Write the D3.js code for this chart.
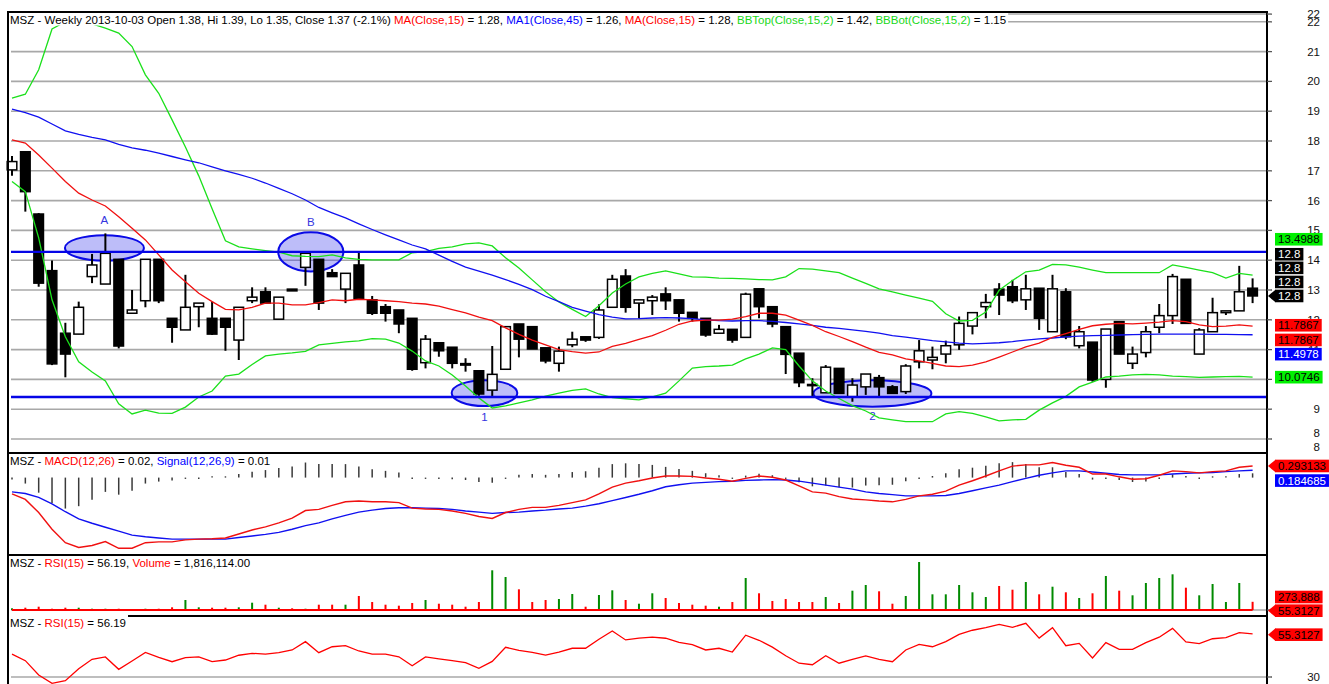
<!DOCTYPE html>
<html><head><meta charset="utf-8">
<script src="https://cdn.jsdelivr.net/npm/d3@7/dist/d3.min.js"></script>
<style>
html,body{margin:0;padding:0;background:#fff;}
svg{display:block;font-family:"Liberation Sans",Arial,Helvetica,sans-serif;}
text{white-space:pre;}
</style></head><body>
<svg id="chart" width="1329" height="684"></svg>
<script>
// ---------------- DATA (weekly candles, oldest -> newest, last = 2013-10-03) ----------------
const opens = [17.03,17.64,15.55,13.65,11.55,11.52,13.45,13.20,14.03,12.22,
12.64,14.03,12.05,11.66,12.44,12.05,12.05,11.32,12.64,12.94,
12.02,13.03,13.76,14.03,13.58,13.03,13.84,12.67,12.44,12.33,
12.05,10.56,11.23,11.08,10.53,10.29,9.64,10.34,11.86,11.77,
11.06,10.54,11.16,11.43,11.41,12.42,13.47,12.56,12.64,12.87,
12.67,12.25,12.05,11.55,11.68,11.41,13.04,12.44,11.77,10.88,
9.83,9.55,10.37,9.42,9.75,10.06,9.75,9.59,10.59,10.65,
10.85,11.16,11.79,12.44,13.03,13.11,12.67,13.06,11.60,12.94,
11.13,11.25,10.00,11.94,10.54,10.90,11.75,12.14,13.36,10.85,
11.60,12.24,12.30,13.06];
const highs = [17.50,17.66,15.58,13.99,11.90,12.61,14.21,14.90,14.03,13.00,
14.03,14.03,12.05,13.51,12.56,12.61,12.05,12.42,13.09,13.09,
12.76,13.03,14.23,14.03,13.70,13.56,14.25,12.80,12.53,12.33,
12.05,11.49,11.23,11.08,10.71,10.29,11.12,11.77,11.86,11.77,
11.06,11.10,11.60,11.43,12.52,13.51,13.70,12.67,12.83,13.09,
12.67,12.25,12.05,11.83,11.68,12.91,13.04,12.44,11.77,10.88,
10.04,10.48,10.37,10.04,10.18,10.15,9.81,10.51,11.32,11.10,
11.30,12.11,12.24,12.87,13.23,13.34,13.51,13.06,13.51,13.06,
11.79,11.25,11.69,11.94,11.10,11.79,12.53,13.54,13.36,11.72,
12.74,12.30,13.81,13.39];
const lows = [16.83,15.63,13.11,10.48,10.07,11.52,13.23,13.20,11.04,12.22,
12.42,12.56,11.23,11.66,11.75,11.49,10.96,10.65,12.56,12.56,
12.02,12.97,13.14,12.33,13.45,12.56,12.72,12.16,11.94,11.55,
10.29,10.37,10.76,10.37,10.26,9.45,9.42,10.34,10.74,11.02,
10.54,10.26,11.08,11.26,11.36,12.42,12.24,12.05,12.16,12.33,
11.94,11.94,11.43,11.55,11.23,11.41,12.05,11.75,10.18,9.74,
9.42,9.55,9.53,9.25,9.48,9.42,9.53,9.51,10.37,10.34,
10.54,10.99,11.51,12.05,12.16,12.56,12.33,11.66,11.60,11.35,
11.04,9.92,9.72,10.85,10.35,10.74,11.55,11.86,11.88,10.85,
11.60,12.16,12.30,12.56];
const closes = [17.31,16.30,13.23,10.52,10.85,12.42,13.84,14.23,11.12,12.33,
14.03,12.64,11.75,12.42,12.56,11.52,11.75,12.42,12.76,12.56,
12.76,12.97,14.23,12.56,13.45,13.56,12.72,12.22,12.22,11.86,
10.34,11.35,10.96,10.54,10.48,9.51,10.17,11.77,11.35,11.02,
10.62,10.95,11.35,11.32,12.33,13.36,12.42,12.67,12.76,12.64,
12.22,12.05,11.49,11.68,11.32,12.86,12.44,11.86,10.84,9.89,
9.80,10.41,9.53,9.81,10.18,9.75,9.53,10.45,10.96,10.74,
11.13,11.88,12.24,12.58,12.83,12.64,13.04,12.05,13.04,11.43,
11.60,9.98,11.69,10.85,10.85,11.60,12.14,13.45,11.88,11.66,
12.24,12.30,12.94,12.8];
const ma15 = [18.04,17.93,17.53,17.09,16.64,16.25,16.02,15.82,15.46,15.07,
14.68,14.18,13.67,13.28,12.89,12.61,12.35,12.33,12.42,12.56,
12.56,12.50,12.50,12.58,12.67,12.64,12.69,12.67,12.64,12.61,
12.56,12.53,12.46,12.34,12.23,12.09,11.97,11.73,11.51,11.32,
11.16,11.00,10.93,10.88,10.92,11.11,11.21,11.34,11.47,11.65,
11.85,11.96,11.99,11.99,12.02,12.11,12.22,12.22,12.16,11.99,
11.81,11.60,11.44,11.27,11.08,10.91,10.82,10.69,10.62,10.54,
10.45,10.43,10.48,10.59,10.75,10.92,11.09,11.22,11.41,11.54,
11.68,11.80,11.85,11.88,11.86,11.89,11.92,11.97,11.94,11.83,
11.77,11.79,11.83,11.7867];
const ma45 = [19.07,18.95,18.80,18.57,18.34,18.22,18.12,18.04,17.89,17.77,
17.69,17.59,17.48,17.37,17.27,17.13,17.00,16.88,16.75,16.59,
16.41,16.23,16.02,15.77,15.59,15.42,15.22,15.03,14.85,14.68,
14.51,14.38,14.17,13.96,13.77,13.63,13.50,13.35,13.19,13.01,
12.79,12.61,12.42,12.29,12.17,12.09,12.03,12.04,12.06,12.07,
12.06,12.04,12.00,11.97,11.96,11.97,11.97,11.95,11.91,11.86,
11.81,11.75,11.71,11.66,11.61,11.55,11.47,11.42,11.36,11.30,
11.26,11.22,11.19,11.21,11.23,11.27,11.32,11.36,11.39,11.43,
11.45,11.47,11.48,11.49,11.50,11.51,11.52,11.52,11.52,11.52,
11.51,11.51,11.50,11.4978];
const bbTop = [19.44,19.57,20.39,21.76,22.00,22.02,21.93,21.79,21.62,21.17,
20.22,19.60,18.71,17.80,16.83,15.73,14.65,14.45,14.38,14.32,
14.27,14.15,14.13,14.12,14.18,14.08,14.03,14.01,14.01,14.01,
14.25,14.29,14.40,14.45,14.55,14.58,14.48,14.08,13.74,13.34,
12.94,12.60,12.35,12.11,12.47,12.90,13.20,13.44,13.56,13.64,
13.54,13.44,13.43,13.40,13.39,13.37,13.35,13.34,13.44,13.72,
13.70,13.64,13.58,13.40,13.22,13.04,12.94,12.83,12.73,12.62,
12.20,11.96,11.98,12.26,12.99,13.32,13.61,13.67,13.86,13.84,
13.77,13.67,13.58,13.58,13.58,13.58,13.58,13.84,13.76,13.67,
13.58,13.40,13.56,13.4988];
const bbBot = [16.64,16.30,14.75,12.67,11.43,10.59,10.25,9.95,9.18,8.84,
8.97,8.87,8.86,9.07,9.41,9.61,10.11,10.18,10.50,10.79,
10.85,10.89,10.94,11.16,11.21,11.26,11.29,11.37,11.35,11.22,
10.95,10.62,10.45,10.15,9.78,9.38,9.04,9.11,9.21,9.31,
9.44,9.54,9.63,9.68,9.51,9.39,9.35,9.31,9.41,9.54,
9.95,10.38,10.43,10.45,10.48,10.69,10.85,11.06,11.00,10.45,
9.95,9.61,9.36,9.12,8.94,8.71,8.64,8.58,8.58,8.58,
8.84,8.92,8.86,8.74,8.61,8.64,8.66,8.97,9.21,9.43,
9.75,9.91,10.08,10.11,10.15,10.17,10.15,10.11,10.09,10.07,
10.08,10.09,10.10,10.0746];
const macd = [-0.41,-0.55,-0.88,-1.30,-1.64,-1.76,-1.71,-1.61,-1.78,-1.78,
-1.64,-1.62,-1.62,-1.57,-1.55,-1.54,-1.52,-1.42,-1.32,-1.24,
-1.14,-1.02,-0.83,-0.80,-0.70,-0.61,-0.59,-0.61,-0.61,-0.63,
-0.77,-0.79,-0.80,-0.84,-0.90,-0.98,-1.03,-0.88,-0.80,-0.75,
-0.75,-0.70,-0.63,-0.56,-0.41,-0.24,-0.14,-0.08,-0.01,0.04,
0.04,0.03,-0.01,-0.04,-0.09,-0.02,0.04,0.01,-0.06,-0.21,
-0.36,-0.39,-0.48,-0.54,-0.56,-0.59,-0.61,-0.55,-0.46,-0.42,
-0.34,-0.19,-0.08,0.04,0.17,0.29,0.32,0.32,0.38,0.31,
0.26,0.09,0.09,0.02,-0.04,-0.03,0.06,0.17,0.15,0.12,
0.15,0.17,0.26,0.293133];
const signal = [-0.36,-0.40,-0.50,-0.66,-0.86,-1.04,-1.15,-1.25,-1.35,-1.45,
-1.49,-1.52,-1.55,-1.55,-1.55,-1.55,-1.55,-1.51,-1.47,-1.43,
-1.38,-1.30,-1.21,-1.14,-1.04,-0.95,-0.87,-0.82,-0.78,-0.76,
-0.76,-0.77,-0.78,-0.80,-0.84,-0.87,-0.90,-0.88,-0.87,-0.84,
-0.82,-0.79,-0.77,-0.72,-0.66,-0.58,-0.50,-0.42,-0.33,-0.23,
-0.18,-0.14,-0.12,-0.10,-0.09,-0.07,-0.06,-0.05,-0.06,-0.09,
-0.14,-0.19,-0.24,-0.29,-0.36,-0.40,-0.43,-0.46,-0.46,-0.46,
-0.45,-0.40,-0.33,-0.26,-0.19,-0.10,-0.02,0.06,0.12,0.17,
0.17,0.14,0.11,0.08,0.07,0.07,0.07,0.09,0.11,0.12,
0.13,0.15,0.17,0.184685];
const macdHist = [-0.05,-0.15,-0.38,-0.64,-0.78,-0.72,-0.56,-0.36,-0.43,-0.33,
-0.15,-0.10,-0.07,-0.02,0.00,0.01,0.03,0.09,0.15,0.19,
0.24,0.28,0.38,0.34,0.34,0.34,0.28,0.21,0.17,0.13,
-0.01,-0.02,-0.02,-0.04,-0.06,-0.11,-0.13,0.00,0.07,0.09,
0.07,0.09,0.14,0.16,0.25,0.34,0.36,0.34,0.32,0.27,
0.22,0.17,0.11,0.06,0.00,0.05,0.10,0.06,0.00,-0.12,
-0.22,-0.20,-0.24,-0.25,-0.20,-0.19,-0.18,-0.09,0.00,0.04,
0.11,0.21,0.25,0.30,0.36,0.39,0.34,0.26,0.26,0.14,
0.09,-0.05,-0.02,-0.06,-0.11,-0.10,-0.01,0.08,0.04,0.00,
0.02,0.02,0.09,0.108];
const volume = [57000,77000,110000,43000,77000,77000,43000,43000,43000,23000,
43000,43000,90000,334000,90000,77000,77000,90000,244000,177000,
77000,57000,43000,177000,177000,177000,468000,267000,177000,144000,
234000,334000,210000,177000,110000,267000,1326000,1102000,691000,267000,
334000,367000,534000,110000,501000,658000,334000,210000,558000,401000,
234000,177000,144000,110000,267000,1069000,558000,301000,367000,267000,
267000,434000,234000,645000,835000,625000,210000,468000,1603000,524000,
524000,835000,591000,434000,802000,678000,935000,524000,778000,591000,
401000,558000,1136000,645000,491000,902000,1069000,1192000,745000,491000,
868000,267000,902000,273888];
const rsi = [43.5,39.6,31.2,26.3,27.8,34.9,40.4,41.8,34.5,39.4,
44.5,41.6,39.0,41.4,41.8,39.0,40.0,42.8,43.9,43.5,
44.3,45.9,50.8,44.3,47.8,48.4,45.3,43.5,43.5,41.9,
36.6,41.8,40.7,39.6,38.4,35.1,39.2,47.5,45.7,44.5,
42.9,44.7,46.9,46.9,52.2,57.1,51.8,52.9,53.5,52.8,
50.4,49.1,45.9,46.9,44.7,54.6,51.6,47.6,42.5,38.1,
37.2,42.5,38.1,40.3,42.4,40.4,39.0,45.9,49.2,47.8,
50.8,55.1,57.5,59.0,61.0,59.2,61.6,52.9,59.0,48.4,
49.8,41.2,50.2,46.3,46.3,50.2,53.4,58.6,50.6,49.6,
52.5,53.1,56.1,55.3127];
// horizontal support / resistance levels drawn by the analyst
const levels = [14.28, 9.41];
// annotations: label, centre index, centre price, index radius, price radius, label price
const marks = [
  {label:"A", ci:6.93, cp:14.41, ri:2.96, rp:0.43, lp:15.35},
  {label:"B", ci:22.4, cp:14.28, ri:2.44, rp:0.655, lp:15.28},
  {label:"1", ci:35.42, cp:9.54, ri:2.46, rp:0.435, lp:8.74},
  {label:"2", ci:64.5, cp:9.53, ri:4.42, rp:0.445, lp:8.77}
];
// price axis
const priceGrid = [8,9,10,11,12,13,14,15,16,17,18,19,20,21,22,22.26];
const priceTickLabels = [7.73,8.2,9,10,11,12,13,14,15,16,17,18,19,20,21,22,22.26];
const rsiGrid = [30];

// ---------------- CHART ----------------
const svg = d3.select("#chart");
const n = closes.length, idx = d3.range(n);
const FONT = 11.5;
const x = d3.scaleLinear().domain([0, n-1]).range([12, 1252.6]);
const yP = d3.scaleLinear().domain([8, 22]).range([439, 21.8]);
const yM = d3.scaleLinear().domain([-1.95, 0.62]).range([555, 453]);
const yV = d3.scaleLinear().domain([0, 1670000]).range([610, 560]);
const yR = d3.scaleLinear().domain([30, 65]).range([677, 617.5]);
const LEFT = 8, AXIS = 1267;

// grid lines
const gGrid = svg.append("g");
gGrid.selectAll("line").data(priceGrid).join("line")
  .attr("x1", 11).attr("x2", AXIS).attr("y1", d=>yP(d)).attr("y2", d=>yP(d))
  .attr("stroke", "#a8a8a8").attr("stroke-width", 1.6);
svg.append("g").selectAll("line").data(rsiGrid).join("line")
  .attr("x1", 11).attr("x2", AXIS).attr("y1", d=>yR(d)).attr("y2", d=>yR(d))
  .attr("stroke", "#a8a8a8").attr("stroke-width", 1.6);

// annotation ellipses
const gMarks = svg.append("g");
gMarks.selectAll("ellipse").data(marks).join("ellipse")
  .attr("cx", d=>x(d.ci)).attr("cy", d=>yP(d.cp))
  .attr("rx", d=>x(d.ri)-x(0)).attr("ry", d=>yP(0)-yP(d.rp))
  .attr("fill", "rgba(50,50,235,0.32)").attr("stroke", "#0a0ae6").attr("stroke-width", 2);

// candles
const gC = svg.append("g");
gC.selectAll("line").data(idx).join("line")
  .attr("x1", i=>x(i)).attr("x2", i=>x(i))
  .attr("y1", i=>yP(highs[i])).attr("y2", i=>yP(lows[i]))
  .attr("stroke", "#000").attr("stroke-width", 2);
gC.selectAll("rect").data(idx).join("rect")
  .attr("x", i=>x(i)-4.8).attr("width", 9.6)
  .attr("y", i=>yP(Math.max(opens[i], closes[i])))
  .attr("height", i=>Math.max(1.2, Math.abs(yP(opens[i]) - yP(closes[i]))))
  .attr("fill", i=>closes[i] < opens[i] ? "#000" : "#fff")
  .attr("stroke", "#000").attr("stroke-width", 1.5);

// overlays
const lineP = d3.line().x((d,i)=>x(i)).y(d=>yP(d));
const ov = [[bbTop,"#1be01b"],[bbBot,"#1be01b"],[ma45,"#1010f0"],[ma15,"#f01010"]];
svg.append("g").selectAll("path").data(ov).join("path")
  .attr("d", d=>lineP(d[0])).attr("fill","none").attr("stroke", d=>d[1]).attr("stroke-width", 1.3);

// support/resistance
svg.append("g").selectAll("line").data(levels).join("line")
  .attr("x1", 11).attr("x2", AXIS).attr("y1", d=>yP(d)).attr("y2", d=>yP(d))
  .attr("stroke", "#0505e6").attr("stroke-width", 2.4);

// annotation labels
gMarks.selectAll("text").data(marks).join("text")
  .attr("x", d=>x(d.ci)).attr("y", d=>yP(d.lp)+4).attr("text-anchor","middle")
  .attr("font-size", FONT).attr("fill", "#3535e0").text(d=>d.label);

// header helper
function header(x0, yb, parts, bg){
  const t = svg.append("text").attr("x", x0).attr("y", yb).attr("font-size", FONT);
  parts.forEach(([s,c]) => t.append("tspan").attr("fill", c).text(s));
  if (bg) {
    const b = t.node().getBBox();
    svg.insert("rect", () => t.node()).attr("x", bg[0]).attr("y", bg[1])
      .attr("width", b.x + b.width + 2 - bg[0]).attr("height", bg[2]).attr("fill", "#fff");
  }
  return t;
}
const RED="#ff0000", BLUE="#0000ff", GRN="#18d818", BLK="#000";
header(10, 24, [["MSZ - Weekly 2013-10-03 Open 1.38, Hi 1.39, Lo 1.35, Close 1.37 (-2.1%) ",BLK],
  ["MA(Close,15)",RED],[" = 1.28, ",BLK],["MA1(Close,45)",BLUE],[" = 1.26, ",BLK],
  ["MA(Close,15)",RED],[" = 1.28, ",BLK],["BBTop(Close,15,2)",GRN],[" = 1.42, ",BLK],
  ["BBBot(Close,15,2)",GRN],[" = 1.15",BLK]], [9, 13, 12.5]);

// MACD panel
const gMacd = svg.append("g");
gMacd.selectAll("line").data(idx).join("line")
  .attr("x1", i=>x(i)).attr("x2", i=>x(i))
  .attr("y1", yM(0))
  .attr("y2", i=>{ const d = yM(macdHist[i]) - yM(0); return yM(0) + (Math.abs(d) < 1.3 ? (d<0?-1.3:1.3) : d); })
  .attr("stroke", "#3a3a3a").attr("stroke-width", 1.5);
const lineM = d3.line().x((d,i)=>x(i)).y(d=>yM(d));
gMacd.append("path").attr("d", lineM(signal)).attr("fill","none").attr("stroke","#1010f0").attr("stroke-width",1.4);
gMacd.append("path").attr("d", lineM(macd)).attr("fill","none").attr("stroke","#f01010").attr("stroke-width",1.4);
header(10, 465, [["MSZ - ",BLK],["MACD(12,26)",RED],[" = 0.02, ",BLK],["Signal(12,26,9)",BLUE],[" = 0.01",BLK]]);

// Volume panel
const gVol = svg.append("g");
gVol.append("line").attr("x1", 11).attr("x2", AXIS).attr("y1", yV(0)).attr("y2", yV(0))
  .attr("stroke", "#a8a8a8").attr("stroke-width", 1.6);
gVol.selectAll("rect").data(idx).join("rect")
  .attr("x", i=>x(i)-1).attr("width", 2)
  .attr("y", i=>yV(volume[i])).attr("height", i=>yV(0)-yV(volume[i]))
  .attr("fill", i=>closes[i] >= opens[i] ? "#008a00" : "#ff0000");
gVol.append("path").attr("d", d3.line().x((d,i)=>x(i)).y(d=>yV(d))(rsi))
  .attr("fill","none").attr("stroke","#ff0000").attr("stroke-width",2);
header(10, 567, [["MSZ - ",BLK],["RSI(15)",RED],[" = 56.19, ",BLK],["Volume",RED],[" = 1,816,114.00",BLK]]);

// RSI panel
svg.append("defs").append("clipPath").attr("id","rsiClip").append("rect")
  .attr("x", LEFT).attr("y", 617).attr("width", AXIS-LEFT).attr("height", 80);
svg.append("path").attr("clip-path","url(#rsiClip)")
  .attr("d", d3.line().x((d,i)=>x(i)).y(d=>yR(d))(rsi))
  .attr("fill","none").attr("stroke","#ff0000").attr("stroke-width",1.3);

// frames
const gF = svg.append("g").attr("stroke","#000").attr("stroke-width",2);
gF.append("line").attr("x1", LEFT).attr("x2", LEFT).attr("y1", 11).attr("y2", 684);
gF.append("line").attr("x1", AXIS).attr("x2", AXIS).attr("y1", 11).attr("y2", 684);
gF.selectAll("line.h").data([12, 453, 555, 616]).join("line").attr("class","h")
  .attr("x1", LEFT).attr("x2", AXIS).attr("y1", d=>d).attr("y2", d=>d);
header(10, 627, [["MSZ - ",BLK],["RSI(15)",RED],[" = 56.19",BLK]], [9, 615, 14]);

// right axis ticks and labels
const gAx = svg.append("g");
gAx.selectAll("line.p").data(priceGrid).join("line").attr("class","p")
  .attr("x1", AXIS).attr("x2", AXIS+5).attr("y1", d=>yP(d)).attr("y2", d=>yP(d))
  .attr("stroke","#555").attr("stroke-width",1.3);
gAx.selectAll("text.p").data(priceTickLabels).join("text").attr("class","p")
  .attr("x", 1320).attr("y", d=>yP(d)+4).attr("text-anchor","end")
  .attr("font-size", FONT).attr("fill","#111").text(d=>d3.format(".0f")(d));
gAx.append("line").attr("x1", AXIS).attr("x2", AXIS+5).attr("y1", yV(0)).attr("y2", yV(0))
  .attr("stroke","#555").attr("stroke-width",1.3);
gAx.selectAll("line.r").data(rsiGrid).join("line").attr("class","r")
  .attr("x1", AXIS).attr("x2", AXIS+5).attr("y1", d=>yR(d)).attr("y2", d=>yR(d))
  .attr("stroke","#555").attr("stroke-width",1.3);
gAx.selectAll("text.r").data(rsiGrid).join("text").attr("class","r")
  .attr("x", 1320).attr("y", d=>yR(d)+4).attr("text-anchor","end")
  .attr("font-size", FONT).attr("fill","#111").text(d=>d);

// value boxes
function valueBox(yc, txt, bg, fg, arrow){
  const g = svg.append("g");
  const t = g.append("text").attr("x", 1278).attr("y", yc+4.2).attr("font-size", FONT).attr("fill", fg).text(txt);
  const w = t.node().getComputedTextLength();
  const h = 12.6;
  g.insert("rect", "text").attr("x", 1275).attr("y", yc-h/2).attr("width", w+6).attr("height", h).attr("fill", bg);
  if (arrow) g.insert("path", "text").attr("d", `M1268,${yc}L1275.5,${yc-h/2}L1275.5,${yc+h/2}Z`).attr("fill", bg);
}
const last = n-1;
const fmt4 = d3.format(".4f");
const yClose = yP(closes[last]);
valueBox(yClose-56.7, fmt4(bbTop[last]), "#00f000", "#000", false);
[-41.7, -28.1, -14].forEach(o => valueBox(yClose+o, String(closes[last]), "#000", "#fff", false));
valueBox(yClose, String(closes[last]), "#000", "#fff", true);
const yMa = yP(ma15[last]);
valueBox(yMa-0.9, fmt4(ma15[last]), "#ff0000", "#000", false);
valueBox(yMa+13.8, fmt4(ma15[last]), "#ff0000", "#000", false);
valueBox(yMa+28, fmt4(ma45[last]), "#0000ff", "#fff", false);
valueBox(yP(bbBot[last]), fmt4(bbBot[last]), "#00f000", "#000", false);
valueBox(yM(macd[last]), d3.format(".6f")(macd[last]), "#ff0000", "#000", true);
valueBox(yM(macd[last])+14.6, d3.format(".6f")(signal[last]), "#0000ff", "#fff", false);
valueBox(yV(volume[last])-4.8, d3.format(",")(volume[last]), "#ff0000", "#000", false);
valueBox(yV(rsi[last])+0.7, fmt4(rsi[last]), "#ff0000", "#000", true);
valueBox(yR(rsi[last])+0.7, fmt4(rsi[last]), "#ff0000", "#000", true);
</script></body></html>
